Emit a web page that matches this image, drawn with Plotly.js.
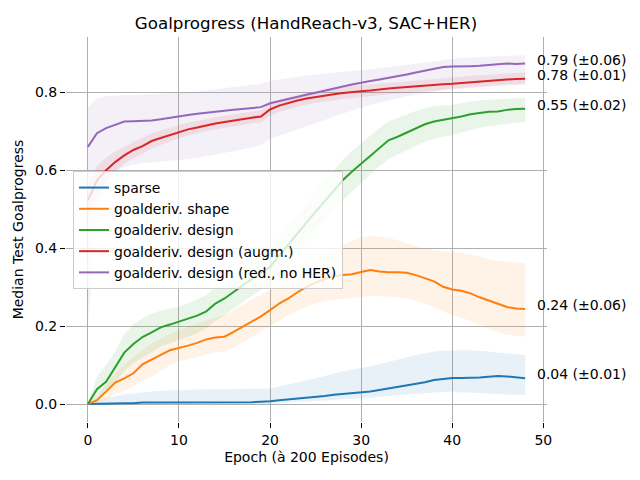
<!DOCTYPE html>
<html>
<head>
<meta charset="utf-8">
<script src="https://cdn.plot.ly/plotly-3.0.1.min.js"></script>
<style>
  body { margin: 0; }
  #myDiv { width: 640px; height: 480px; }
</style>
</head>
<body>
<div id="myDiv"></div>
<script>
const epochs = Array.from({ length: 49 }, (_, i) => i);

// sparse
const sparseMed = [0, 0.001, 0.001, 0.002, 0.002, 0.002, 0.004, 0.004, 0.004, 0.005, 0.005, 0.005, 0.005, 0.005, 0.005, 0.005, 0.005, 0.005, 0.005, 0.006,
  0.007, 0.010, 0.012, 0.015, 0.016, 0.018, 0.021, 0.024, 0.026, 0.028, 0.031, 0.032, 0.036, 0.040, 0.045, 0.049, 0.053, 0.056, 0.062, 0.064,
  0.067, 0.067, 0.067, 0.068, 0.070, 0.072, 0.071, 0.068, 0.066];
const sparseLo = [0, 0, 0, 0, 0, 0, 0, 0, 0, 0, 0, 0, 0, 0, 0, 0, 0, 0, 0, 0,
  0, 0.003, 0.004, 0.005, 0.006, 0.008, 0.009, 0.011, 0.012, 0.014, 0.015, 0.017, 0.019, 0.021, 0.023, 0.025, 0.027, 0.029, 0.030, 0.031,
  0.032, 0.030, 0.030, 0.028, 0.027, 0.026, 0.025, 0.024, 0.023];
const sparseHi = [0, 0.010, 0.015, 0.020, 0.025, 0.027, 0.030, 0.032, 0.034, 0.035, 0.036, 0.037, 0.037, 0.038, 0.038, 0.038, 0.039, 0.039, 0.040, 0.040,
  0.040, 0.045, 0.050, 0.055, 0.060, 0.066, 0.072, 0.078, 0.084, 0.088, 0.092, 0.097, 0.102, 0.108, 0.115, 0.120, 0.126, 0.130, 0.135, 0.137,
  0.138, 0.138, 0.138, 0.137, 0.135, 0.132, 0.130, 0.128, 0.126];

// goalderiv. shape
const shapeMed = [0, 0.010, 0.032, 0.055, 0.066, 0.079, 0.102, 0.113, 0.126, 0.138, 0.145, 0.150, 0.157, 0.166, 0.171, 0.173, 0.185, 0.198, 0.213, 0.225,
  0.241, 0.258, 0.271, 0.287, 0.300, 0.312, 0.321, 0.328, 0.331, 0.333, 0.339, 0.344, 0.340, 0.338, 0.338, 0.337, 0.331, 0.324, 0.315, 0.301,
  0.294, 0.291, 0.284, 0.274, 0.265, 0.257, 0.249, 0.245, 0.244];
const shapeLo = [0, 0.003, 0.012, 0.025, 0.035, 0.045, 0.060, 0.070, 0.085, 0.100, 0.110, 0.115, 0.120, 0.128, 0.133, 0.135, 0.145, 0.158, 0.172, 0.185,
  0.200, 0.215, 0.228, 0.240, 0.250, 0.258, 0.264, 0.268, 0.270, 0.272, 0.275, 0.278, 0.277, 0.276, 0.275, 0.272, 0.265, 0.258, 0.248, 0.238,
  0.228, 0.222, 0.212, 0.202, 0.192, 0.184, 0.178, 0.175, 0.173];
const shapeHi = [0, 0.020, 0.050, 0.080, 0.100, 0.120, 0.140, 0.155, 0.168, 0.180, 0.190, 0.198, 0.205, 0.215, 0.222, 0.228, 0.240, 0.255, 0.268, 0.280,
  0.293, 0.310, 0.325, 0.342, 0.358, 0.372, 0.385, 0.397, 0.408, 0.418, 0.428, 0.432, 0.430, 0.427, 0.420, 0.412, 0.405, 0.400, 0.395, 0.392,
  0.390, 0.388, 0.384, 0.378, 0.372, 0.368, 0.365, 0.363, 0.361];

// goalderiv. design
const designMed = [0, 0.038, 0.057, 0.096, 0.132, 0.154, 0.172, 0.184, 0.197, 0.204, 0.211, 0.218, 0.227, 0.238, 0.258, 0.271, 0.288, 0.305, 0.321, 0.336,
  0.352, 0.381, 0.410, 0.438, 0.466, 0.494, 0.520, 0.548, 0.575, 0.597, 0.617, 0.637, 0.657, 0.677, 0.686, 0.697, 0.708, 0.718, 0.725, 0.729,
  0.733, 0.738, 0.744, 0.747, 0.750, 0.751, 0.755, 0.757, 0.758];
const designLo = [0, 0.015, 0.030, 0.055, 0.085, 0.105, 0.120, 0.135, 0.148, 0.156, 0.164, 0.172, 0.182, 0.195, 0.213, 0.228, 0.245, 0.262, 0.278, 0.293,
  0.308, 0.335, 0.362, 0.390, 0.418, 0.445, 0.470, 0.498, 0.523, 0.546, 0.568, 0.590, 0.610, 0.628, 0.640, 0.652, 0.663, 0.673, 0.681, 0.686,
  0.690, 0.697, 0.704, 0.709, 0.713, 0.716, 0.720, 0.722, 0.724];
const designHi = [0, 0.070, 0.100, 0.135, 0.180, 0.205, 0.220, 0.232, 0.240, 0.245, 0.250, 0.258, 0.268, 0.280, 0.300, 0.315, 0.332, 0.350, 0.367, 0.382,
  0.398, 0.428, 0.458, 0.488, 0.516, 0.545, 0.572, 0.600, 0.627, 0.650, 0.670, 0.690, 0.708, 0.725, 0.734, 0.744, 0.752, 0.759, 0.764, 0.766,
  0.768, 0.772, 0.776, 0.779, 0.781, 0.782, 0.784, 0.785, 0.786];

// goalderiv. design (augm.)
const augmMed = [0.523, 0.574, 0.600, 0.621, 0.638, 0.652, 0.662, 0.675, 0.683, 0.691, 0.698, 0.705, 0.710, 0.716, 0.720, 0.724, 0.728, 0.731, 0.735, 0.738,
  0.756, 0.766, 0.773, 0.779, 0.784, 0.788, 0.792, 0.795, 0.798, 0.801, 0.803, 0.805, 0.808, 0.810, 0.812, 0.814, 0.816, 0.818, 0.820, 0.821,
  0.822, 0.824, 0.826, 0.828, 0.829, 0.831, 0.833, 0.834, 0.835];
const augmLo = [0.470, 0.535, 0.570, 0.596, 0.616, 0.631, 0.642, 0.656, 0.665, 0.674, 0.682, 0.689, 0.695, 0.701, 0.705, 0.709, 0.713, 0.716, 0.720, 0.723,
  0.740, 0.750, 0.757, 0.764, 0.769, 0.773, 0.777, 0.780, 0.783, 0.786, 0.788, 0.790, 0.793, 0.795, 0.797, 0.799, 0.801, 0.803, 0.805, 0.806,
  0.807, 0.809, 0.811, 0.813, 0.814, 0.816, 0.818, 0.819, 0.820];
const augmHi = [0.565, 0.610, 0.632, 0.648, 0.660, 0.673, 0.683, 0.695, 0.703, 0.710, 0.716, 0.722, 0.727, 0.732, 0.736, 0.740, 0.744, 0.747, 0.751, 0.754,
  0.771, 0.781, 0.788, 0.794, 0.799, 0.803, 0.807, 0.810, 0.813, 0.816, 0.818, 0.820, 0.823, 0.825, 0.827, 0.829, 0.831, 0.833, 0.835, 0.837,
  0.838, 0.840, 0.842, 0.844, 0.845, 0.847, 0.849, 0.850, 0.851];

// goalderiv. design (red., no HER)
const redMed = [0.660, 0.695, 0.708, 0.716, 0.725, 0.726, 0.727, 0.728, 0.731, 0.735, 0.738, 0.742, 0.745, 0.748, 0.751, 0.753, 0.755, 0.757, 0.759, 0.762,
  0.772, 0.778, 0.784, 0.789, 0.794, 0.799, 0.805, 0.811, 0.815, 0.820, 0.825, 0.829, 0.833, 0.837, 0.842, 0.846, 0.851, 0.856, 0.861, 0.865,
  0.866, 0.866, 0.867, 0.868, 0.870, 0.871, 0.874, 0.873, 0.874];
const redLo = [0.200, 0.500, 0.570, 0.598, 0.608, 0.614, 0.618, 0.620, 0.622, 0.624, 0.626, 0.629, 0.632, 0.636, 0.640, 0.644, 0.649, 0.654, 0.659, 0.664,
  0.680, 0.688, 0.696, 0.703, 0.712, 0.720, 0.729, 0.738, 0.746, 0.754, 0.762, 0.768, 0.773, 0.778, 0.784, 0.790, 0.794, 0.798, 0.802, 0.806,
  0.810, 0.812, 0.814, 0.816, 0.818, 0.820, 0.821, 0.822, 0.822];
const redHi = [0.760, 0.785, 0.790, 0.792, 0.793, 0.793, 0.794, 0.795, 0.796, 0.797, 0.798, 0.800, 0.802, 0.805, 0.808, 0.811, 0.814, 0.817, 0.819, 0.822,
  0.830, 0.834, 0.837, 0.840, 0.843, 0.846, 0.848, 0.850, 0.852, 0.854, 0.856, 0.859, 0.862, 0.865, 0.868, 0.871, 0.874, 0.877, 0.880, 0.883,
  0.886, 0.888, 0.889, 0.891, 0.892, 0.893, 0.894, 0.895, 0.895];

const names = ['sparse', 'goalderiv. shape', 'goalderiv. design', 'goalderiv. design (augm.)', 'goalderiv. design (red., no HER)'];
const endLabels = ['0.04 (±0.01)', '0.24 (±0.06)', '0.55 (±0.02)', '0.78 (±0.01)', '0.79 (±0.06)'];

const colors = ['#1f77b4', '#ff7f0e', '#2ca02c', '#d62728', '#9467bd'];
const bands = ['rgba(31,119,180,0.1)', 'rgba(255,127,14,0.1)', 'rgba(44,160,44,0.1)', 'rgba(214,39,40,0.1)', 'rgba(148,103,189,0.1)'];

const meds = [sparseMed, shapeMed, designMed, augmMed, redMed];
const los = [sparseLo, shapeLo, designLo, augmLo, redLo];
const his = [sparseHi, shapeHi, designHi, augmHi, redHi];

const font = 'DejaVu Sans, sans-serif';
var data = [];

for (let i = 0; i < names.length; i++) {
  data.push({
    x: epochs, y: los[i], type: 'scatter', mode: 'lines',
    line: { width: 0, color: bands[i] }, showlegend: false, hoverinfo: 'skip'
  });
  data.push({
    x: epochs, y: his[i], type: 'scatter', mode: 'lines', fill: 'tonexty',
    fillcolor: bands[i], line: { width: 0, color: bands[i] }, showlegend: false, hoverinfo: 'skip'
  });
}
for (let i = 0; i < names.length; i++) {
  data.push({
    x: epochs, y: meds[i], type: 'scatter', mode: 'lines', name: names[i],
    line: { width: 2, color: colors[i] }
  });
}

var annotations = endLabels.map((t, i) => ({
  x: 49, y: meds[i][48], xref: 'x', yref: 'y', text: t, showarrow: false,
  xanchor: 'left', yanchor: 'middle', xshift: 1, yshift: 4,
  font: { family: font, size: 14, color: '#000' }
}));

var axisBase = {
  showline: false, zeroline: false, showgrid: true,
  gridcolor: '#b0b0b0', gridwidth: 1,
  ticks: 'outside', ticklen: 5, tickwidth: 1, tickcolor: '#000',
  tickfont: { family: font, size: 14, color: '#000' }
};

var layout = {
  width: 640, height: 480,
  margin: { l: 66, r: 93, t: 37, b: 58 },
  paper_bgcolor: '#fff', plot_bgcolor: '#fff',
  font: { family: font, size: 14, color: '#000' },
  title: {
    text: 'Goalprogress (HandReach-v3, SAC+HER)',
    font: { family: font, size: 16.7, color: '#000' },
    x: 306 / 640, xanchor: 'center', y: 1 - 23 / 480, yanchor: 'middle'
  },
  xaxis: Object.assign({}, axisBase, {
    range: [-2.4, 50.4], tickvals: [0, 10, 20, 30, 40, 50],
    title: { text: 'Epoch (à 200 Episodes)', font: { family: font, size: 14, color: '#000' }, standoff: 5 }
  }),
  yaxis: Object.assign({}, axisBase, {
    range: [-0.046, 0.942], tickvals: [0, 0.2, 0.4, 0.6, 0.8], tickformat: '.1f',
    title: { text: 'Median Test Goalprogress', font: { family: font, size: 14, color: '#000' }, standoff: 8 }
  }),
  legend: {
    x: 0.0146, y: 0.652, xanchor: 'left', yanchor: 'top', traceorder: 'normal',
    bgcolor: 'rgba(255,255,255,0.8)', bordercolor: '#cccccc', borderwidth: 1,
    font: { family: font, size: 14, color: '#000' }
  },
  annotations: annotations,
  showlegend: true
};

Plotly.newPlot('myDiv', data, layout, { staticPlot: true });
</script>
</body>
</html>
